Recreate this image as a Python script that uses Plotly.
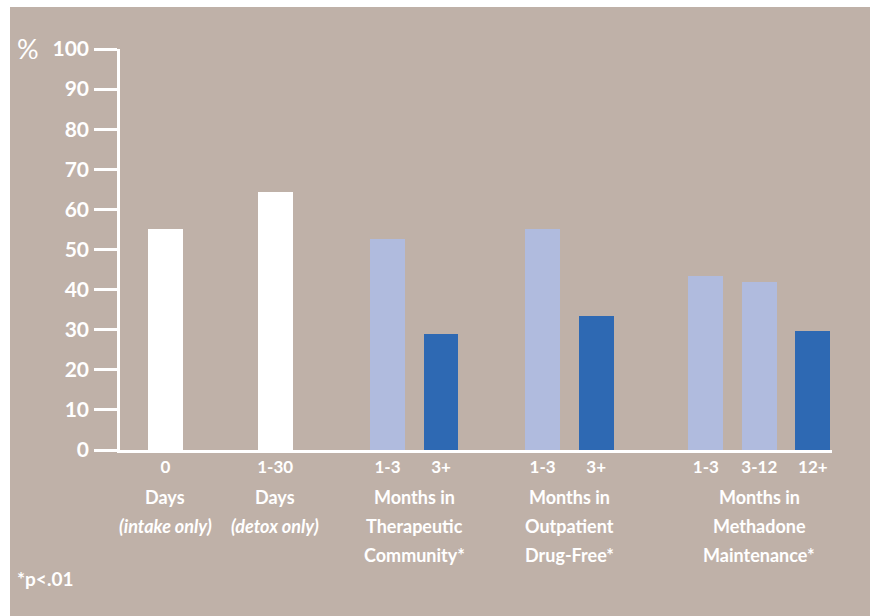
import plotly.graph_objects as go

# ---- data ----
groups = ["Days|(intake only)", "Days|(detox only)", "Months in|Therapeutic|Community*",
          "Months in|Outpatient|Drug-Free*", "Months in|Methadone|Maintenance*"]
bar_labels = [["0"], ["1-30"], ["1-3", "3+"], ["1-3", "3+"], ["1-3", "3-12", "12+"]]
values = [[55], [64.4], [52.6, 29], [55, 33.4], [43.4, 42, 29.7]]
kinds = [["base"], ["base"], ["short", "long"], ["short", "long"], ["short", "short", "long"]]
y_ticks = [0, 10, 20, 30, 40, 50, 60, 70, 80, 90, 100]
footnote = "*p<.01"

# ---- layout constants ----
BG = "#BFB1A8"
COLORS = {"base": "#FFFFFF", "short": "#B0BBDE", "long": "#2E69B3"}
group_centers = [0.85, 2.9, 5.5, 8.4, 11.95]
step = 1.0
FONT = "Lato"

xs, ys, cols, tlabels = [], [], [], []
for gc, labs, vals, ks in zip(group_centers, bar_labels, values, kinds):
    n = len(vals)
    for i, (lab, v, k) in enumerate(zip(labs, vals, ks)):
        xs.append(gc + (i - (n - 1) / 2) * step)
        ys.append(v)
        cols.append(COLORS[k])
        tlabels.append(lab)

fig = go.Figure()
fig.add_trace(go.Bar(x=xs, y=ys, marker=dict(color=cols, line=dict(width=0)),
                     width=0.654, hoverinfo="skip"))

W, H = 870, 616
L, T = 120, 49
R = W - 832
B = H - 450
pw, ph = W - L - R, H - T - B

def px(v):
    return (v - L) / pw

def py(v):
    return (H - v - B) / ph

# background box (white strip on top and left)
fig.add_shape(type="rect", xref="paper", yref="paper",
              x0=px(10), x1=px(880), y0=py(630), y1=py(7),
              fillcolor=BG, line=dict(width=0), layer="below")

# group labels
for gc, g in zip(group_centers, groups):
    lines = g.split("|")
    for k, line in enumerate(lines):
        txt = f"<i>{line}</i>" if line.startswith("(") else line
        fig.add_annotation(x=gc, y=0, xref="x", yref="y", text=txt, showarrow=False,
                           yanchor="middle", xanchor="center", yshift=-(47 + 29 * k),
                           font=dict(family=FONT, size=18, color="white", weight=700))

fig.add_annotation(x=px(15), y=py(578), xref="paper", yref="paper",
                   text=footnote, showarrow=False, xanchor="left", yanchor="middle",
                   font=dict(family=FONT, size=19, color="white", weight=700))
fig.add_annotation(x=px(15), y=py(48), xref="paper", yref="paper",
                   text="%", showarrow=False, xanchor="left", yanchor="middle",
                   font=dict(family=FONT, size=27, color="white", weight=400))

fig.update_layout(
    width=W, height=H,
    margin=dict(l=L, r=R, t=T, b=B, pad=0),
    paper_bgcolor="white", plot_bgcolor="rgba(0,0,0,0)",
    showlegend=False, bargap=0,
    xaxis=dict(range=[0, pw / 53.5], showgrid=False, zeroline=False,
               showline=True, linecolor="white", linewidth=2.5,
               tickmode="array", tickvals=xs, ticktext=tlabels, ticks="",
               ticklabelstandoff=0,
               tickfont=dict(family=FONT, size=17, color="white", weight=700)),
    yaxis=dict(range=[0, 100], showgrid=False, zeroline=False,
               showline=True, linecolor="white", linewidth=2.5,
               tickmode="array", tickvals=y_ticks, ticks="outside", ticklen=23,
               tickwidth=2.5, tickcolor="white", ticklabelstandoff=1,
               tickfont=dict(family=FONT, size=21, color="white", weight=700)),
)

fig.write_html("out.html", config={"displayModeBar": False},
               post_script="document.body.style.margin='0';document.body.style.overflow='hidden';")
